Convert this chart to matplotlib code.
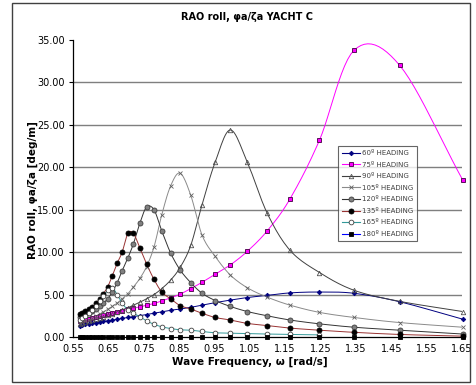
import numpy as np
import matplotlib
matplotlib.use("Agg")
import matplotlib.pyplot as plt
from matplotlib.patches import Rectangle

# wave frequencies [rad/s]
omega = [0.569, 0.576, 0.585, 0.594, 0.604, 0.614, 0.625, 0.636, 0.648, 0.661,
         0.675, 0.689, 0.705, 0.721, 0.739, 0.758, 0.779, 0.801, 0.826, 0.853,
         0.883, 0.915, 0.952, 0.995, 1.043, 1.099, 1.164, 1.247, 1.345, 1.474, 1.652]

# roll RAO [deg/m] for each heading
rao_60 = [1.30, 1.40, 1.50, 1.55, 1.60, 1.70, 1.75, 1.85, 1.90, 2.00,
          2.10, 2.20, 2.30, 2.40, 2.50, 2.65, 2.80, 2.95, 3.15, 3.30,
          3.50, 3.75, 4.05, 4.35, 4.65, 4.90, 5.20, 5.30, 5.15, 4.15, 2.10]
rao_75 = [1.85, 1.95, 2.05, 2.15, 2.25, 2.35, 2.45, 2.55, 2.70, 2.80,
          2.95, 3.10, 3.25, 3.40, 3.55, 3.75, 3.95, 4.25, 4.60, 5.05,
          5.70, 6.45, 7.40, 8.50, 10.10, 12.50, 16.30, 23.20, 33.80, 32.00, 18.50]
rao_90 = [1.55, 1.65, 1.75, 1.85, 1.95, 2.10, 2.25, 2.40, 2.55, 2.75,
          2.95, 3.20, 3.45, 3.75, 4.10, 4.50, 5.00, 5.70, 6.70, 8.20,
          10.80, 15.60, 20.60, 24.40, 20.60, 14.60, 10.20, 7.60, 5.50, 4.20, 3.00]
rao_105 = [1.60, 1.75, 1.90, 2.05, 2.25, 2.45, 2.70, 2.95, 3.25, 3.60,
           4.00, 4.50, 5.10, 5.90, 6.90, 8.30, 10.60, 14.40, 17.80, 19.30,
           16.70, 12.00, 9.50, 7.30, 5.80, 4.70, 3.75, 2.90, 2.30, 1.70, 1.15]
rao_120 = [2.30, 2.45, 2.65, 2.85, 3.05, 3.30, 3.60, 4.00, 4.50, 5.30,
           6.40, 7.80, 9.30, 11.00, 13.40, 15.30, 15.00, 12.50, 9.90, 7.90,
           6.40, 5.15, 4.30, 3.60, 3.00, 2.50, 2.00, 1.55, 1.15, 0.80, 0.35]
rao_135 = [2.75, 2.85, 3.05, 3.30, 3.55, 3.95, 4.45, 5.10, 5.90, 7.20,
           8.70, 10.00, 12.20, 12.20, 10.50, 8.60, 6.80, 5.30, 4.50, 3.70,
           3.30, 2.80, 2.30, 2.00, 1.60, 1.35, 1.05, 0.80, 0.55, 0.30, 0.10]
rao_165 = [2.00, 2.20, 2.50, 2.80, 3.20, 3.60, 4.20, 4.80, 5.50, 5.80,
           5.00, 4.00, 3.20, 2.80, 2.40, 1.90, 1.50, 1.20, 1.00, 0.85,
           0.80, 0.65, 0.50, 0.45, 0.40, 0.35, 0.30, 0.25, np.nan, np.nan, np.nan]
rao_180 = [0.05] * 31

labels = ["60º HEADING", "75º HEADING", "90º HEADING", "105º HEADING",
          "120º HEADING", "135º HEADING", "165º HEADING", "180º HEADING"]


def smooth(x, y, n=12):
    # catmull-rom curve through the points, in axis-normalised units
    x = np.asarray(x, float)
    y = np.asarray(y, float)
    ok = ~np.isnan(y)
    x, y = x[ok], y[ok]
    px = (x - 0.55) / 1.1
    py = y / 35.0
    P = np.column_stack([px, py])
    P = np.vstack([P[0] - (P[1] - P[0]), P, P[-1] + (P[-1] - P[-2])])
    out = []
    t = np.linspace(0, 1, n, endpoint=False)[:, None]
    for i in range(1, len(P) - 2):
        p0, p1, p2, p3 = P[i - 1], P[i], P[i + 1], P[i + 2]
        seg = 0.5 * ((2 * p1) + (-p0 + p2) * t + (2 * p0 - 5 * p1 + 4 * p2 - p3) * t ** 2
                     + (-p0 + 3 * p1 - 3 * p2 + p3) * t ** 3)
        out.append(seg)
    out.append(P[-2][None, :])
    out = np.vstack(out)
    return out[:, 0] * 1.1 + 0.55, out[:, 1] * 35.0


styles = [
    (rao_60, dict(color="#000080", marker="D", ms=2.3, mfc="#000080", mec="#000080")),
    (rao_75, dict(color="#FF00FF", marker="s", ms=3.4, mfc="#FF00FF", mec="#400040")),
    (rao_90, dict(color="#404040", marker="^", ms=3.2, mfc="none", mec="#505050")),
    (rao_105, dict(color="#8a8a8a", marker="x", ms=2.6, mfc="#606060", mec="#606060")),
    (rao_120, dict(color="#333333", marker="o", ms=3.6, mfc="#808080", mec="#404040")),
    (rao_135, dict(color="#993333", marker="o", ms=3.6, mfc="#000000", mec="#000000")),
    (rao_165, dict(color="#339999", marker="o", ms=3.4, mfc="#ffffff", mec="#404040")),
    (rao_180, dict(color="#0000FF", marker="s", ms=3.3, mfc="#000000", mec="#000000")),
]

fig = plt.figure(figsize=(4.76, 3.85), dpi=100)
fig.add_artist(Rectangle((12 / 476, 3 / 385), 458 / 476, 379 / 385, transform=fig.transFigure,
                         fill=False, ec="#404040", lw=1.0))
ax = fig.add_axes([73 / 476, 1 - 337 / 385, 389 / 476, 297 / 385])

handles = []
for data, st in styles:
    sx, sy = smooth(omega, data)
    ax.plot(sx, sy, color=st["color"], lw=0.7, zorder=3)
    y = np.asarray(data, float)
    ax.plot(omega, y, ls="none", marker=st["marker"], ms=st["ms"], mfc=st["mfc"],
            mec=st["mec"], mew=0.6, zorder=4, clip_on=False)
    h, = ax.plot([], [], color=st["color"], lw=0.8, marker=st["marker"], ms=st["ms"],
                 mfc=st["mfc"], mec=st["mec"], mew=0.6)
    handles.append(h)

ax.set_xlim(0.55, 1.65)
ax.set_ylim(0, 35)
ax.set_xticks(np.arange(0.55, 1.66, 0.1))
ax.set_yticks(np.arange(0, 35.1, 5))
ax.xaxis.set_major_formatter(plt.FormatStrFormatter("%.2f"))
ax.yaxis.set_major_formatter(plt.FormatStrFormatter("%.2f"))
ax.tick_params(labelsize=7, length=3, width=0.8, color="black", pad=3)
ax.tick_params(axis="x", length=0, pad=5)

for v in range(5, 35, 5):
    ax.axhline(v, color="#7f7f7f", lw=1.0, zorder=1)

for s in ["top", "right"]:
    ax.spines[s].set_visible(False)
ax.spines["left"].set_linewidth(0.9)
ax.spines["bottom"].set_linewidth(0.9)

fig.text(247 / 476, 1 - 17 / 385, "RAO roll, φa/ζa YACHT C", ha="center", va="center",
         fontsize=7, fontweight="bold")
fig.text(250 / 476, 1 - 362 / 385, "Wave Frequency, ω [rad/s]", ha="center", va="center",
         fontsize=7.5, fontweight="bold")
fig.text(33 / 476, 1 - 190 / 385, "RAO roll, φa/ζa [deg/m]", ha="center", va="center",
         fontsize=7.5, fontweight="bold", rotation=90)

leg = ax.legend(handles, labels, loc="upper left", bbox_to_anchor=((338 - 73) / 389, (337 - 146) / 297),
                fontsize=5, frameon=True, fancybox=False, edgecolor="#404040",
                handlelength=2.6, handletextpad=0.2, borderpad=0.6, labelspacing=0.8,
                borderaxespad=0)
leg.get_frame().set_linewidth(0.8)
for t in leg.get_texts():
    t.set_color("#404040")

fig.savefig("out.png", dpi=100)
